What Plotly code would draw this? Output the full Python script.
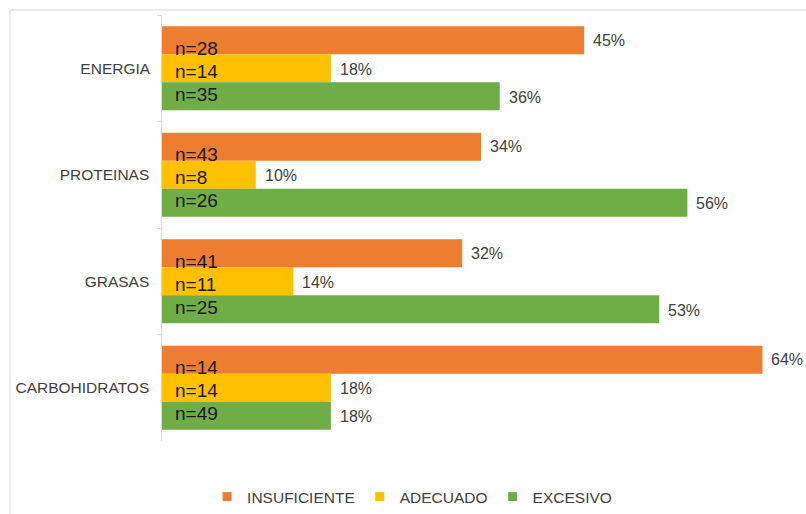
import plotly.graph_objects as go

# Nutrient categories, top to bottom
categories = ["ENERGIA", "PROTEINAS", "GRASAS", "CARBOHIDRATOS"]

# Percentage of subjects per adequacy level
insuficiente_pct = [45, 34, 32, 64]
adecuado_pct = [18, 10, 14, 18]
excesivo_pct = [36, 56, 53, 18]

# Sample-size labels shown inside each bar
insuficiente_n = [28, 43, 41, 14]
adecuado_n = [14, 8, 11, 14]
excesivo_n = [35, 26, 25, 49]

series = [
    ("INSUFICIENTE", insuficiente_pct, insuficiente_n, "#ED7D31"),
    ("ADECUADO", adecuado_pct, adecuado_n, "#FFC000"),
    ("EXCESIVO", excesivo_pct, excesivo_n, "#70AD47"),
]

FONT = "Liberation Sans, Arial, sans-serif"

fig = go.Figure()
for name, pct, n, color in series:
    fig.add_trace(go.Bar(
        name=name, x=pct, y=categories, orientation="h",
        marker=dict(color=color, line=dict(width=0)),
        hoverinfo="skip", showlegend=False, legendgroup=name,
    ))

# Legend entries with small square swatches
for name, pct, n, color in series:
    fig.add_trace(go.Scatter(
        name=name, x=[None], y=[None], mode="markers",
        marker=dict(symbol="square", size=9, color=color),
        legendgroup=name, showlegend=True, hoverinfo="skip",
    ))

annotations = []
# vertical pixel offsets of each series' slot within a category band
pct_shift = [28, -1, -29]
n_shift = [20, -3, -26]
for (name, pct, n, color), ps, ns in zip(series, pct_shift, n_shift):
    for cat, p, count in zip(categories, pct, n):
        annotations.append(dict(
            x=p, y=cat, xref="x", yref="y", text=f"{p}%", showarrow=False,
            xanchor="left", yanchor="middle", xshift=7, yshift=ps,
            font=dict(family=FONT, size=16, color="#404040"),
        ))
        annotations.append(dict(
            x=0, y=cat, xref="x", yref="y", text=f"n={count}", showarrow=False,
            xanchor="left", yanchor="middle", xshift=11, yshift=ns,
            font=dict(family=FONT, size=19, color="#1a1a1a"),
        ))

fig.update_layout(
    width=806, height=514,
    margin=dict(l=162, r=6, t=15, b=73, autoexpand=False),
    paper_bgcolor="white", plot_bgcolor="white",
    barmode="group", bargap=0.21, bargroupgap=0,
    font=dict(family=FONT, size=15.5, color="#404040"),
    showlegend=True,
    legend=dict(
        orientation="h", x=0.392, xanchor="center",
        yref="container", y=(514 - 497) / 514, yanchor="middle",
        font=dict(family=FONT, size=15.5, color="#404040"),
        traceorder="normal", itemwidth=30,
    ),
    xaxis=dict(range=[0, 68], visible=False, showgrid=False, zeroline=False),
    yaxis=dict(
        autorange="reversed", type="category",
        showline=True, linecolor="#d9d9d9", linewidth=1,
        ticks="outside", tickson="boundaries", ticklen=4, tickcolor="#d9d9d9",
        showgrid=False, ticksuffix="  ",
        tickfont=dict(family=FONT, size=15.5, color="#404040"),
    ),
    annotations=annotations,
    shapes=[dict(
        type="rect", xref="paper", yref="paper",
        x0=(10 - 162) / 638, x1=1.1, y0=-0.3, y1=(441 - 10) / 426,
        line=dict(color="#d9d9d9", width=1), fillcolor="rgba(0,0,0,0)",
        layer="below",
    )],
)

fig.write_html("out.html")
